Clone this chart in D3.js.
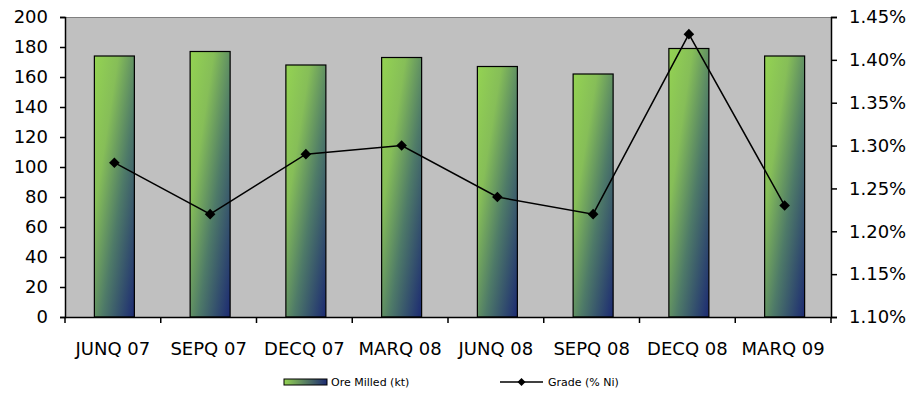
<!DOCTYPE html>
<html><head><meta charset="utf-8">
<script src="https://cdn.jsdelivr.net/npm/d3@7"></script>
<style>body{margin:0;background:#fff}svg{display:block}text{font-family:"DejaVu Sans",Verdana,sans-serif}</style>
</head><body><svg id="c" width="921" height="393"></svg>
<script>
const categories = ["JUNQ 07","SEPQ 07","DECQ 07","MARQ 08","JUNQ 08","SEPQ 08","DECQ 08","MARQ 09"];
const oreMilled = [174, 177, 168, 173, 167, 162, 179, 174];
const grade = [1.28, 1.22, 1.29, 1.30, 1.24, 1.22, 1.43, 1.23];
const leftTicks = [0,20,40,60,80,100,120,140,160,180,200];
const rightTicks = [1.10,1.15,1.20,1.25,1.30,1.35,1.40,1.45];
const seriesNames = ["Ore Milled (kt)", "Grade (% Ni)"];

const svg = d3.select("#c");
const L = 65, R = 831, T = 17, B = 317;
const x = d3.scaleBand().domain(categories).range([L, R]);
const yL = d3.scaleLinear().domain([0,200]).range([B, T]);
const yR = d3.scaleLinear().domain([1.10,1.45]).range([B, T]);

const defs = svg.append("defs");
const g = defs.append("linearGradient").attr("id","bg").attr("x1",0).attr("y1",0).attr("x2",1).attr("y2",1);
g.append("stop").attr("offset","0").attr("stop-color","#94D352");
g.append("stop").attr("offset","0.3").attr("stop-color","#86BE58");
g.append("stop").attr("offset","0.6").attr("stop-color","#4E7A68");
g.append("stop").attr("offset","1").attr("stop-color","#1C2A72");
const g2 = defs.append("linearGradient").attr("id","lg").attr("x1",0).attr("y1",0).attr("x2",1).attr("y2",0);
g2.append("stop").attr("offset","0").attr("stop-color","#94D352");
g2.append("stop").attr("offset","1").attr("stop-color","#1C2A72");

svg.append("rect").attr("x",L).attr("y",T).attr("width",R-L).attr("height",B-T).attr("fill","#C0C0C0");
svg.append("line").attr("x1",L).attr("x2",R).attr("y1",T+0.5).attr("y2",T+0.5).attr("stroke","#808080");

const bw = 40;
svg.append("g").selectAll("rect").data(oreMilled).join("rect")
  .attr("x",(d,i)=>x(categories[i]) + x.bandwidth()/2 - bw/2 + 1.5)
  .attr("y",d=>yL(d))
  .attr("width",bw).attr("height",d=>B-yL(d))
  .attr("fill","url(#bg)").attr("stroke","#000").attr("stroke-width",1.2);

const styleText = s=>{s.select(".domain").attr("stroke","#000").attr("stroke-width",1.5);s.selectAll("text").attr("font-size",18).attr("font-family","DejaVu Sans").attr("fill","#000");s.selectAll(".tick line").attr("stroke","#000").attr("stroke-width",1.5);};
const ax = svg.append("g");
ax.append("g").attr("transform",`translate(${L},0)`)
  .call(d3.axisLeft(yL).tickValues(leftTicks).tickSize(5).tickPadding(12).tickFormat(d3.format("d")))
  .call(styleText);
ax.append("g").attr("transform",`translate(${R},0)`)
  .call(d3.axisRight(yR).tickValues(rightTicks).tickSize(6).tickPadding(12).tickFormat(d=>d.toFixed(2)+"%"))
  .call(styleText);
const xa = ax.append("g").attr("transform",`translate(0,${B})`)
  .call(d3.axisBottom(x).tickSize(0).tickPadding(25))
  .call(styleText);
xa.selectAll("line.bt").data(categories.concat([null])).join("line").attr("class","bt")
  .attr("x1",(d,i)=>L + i*x.bandwidth()).attr("x2",(d,i)=>L + i*x.bandwidth())
  .attr("y1",0).attr("y2",6).attr("stroke","#000").attr("stroke-width",1.5);

const cx = (i)=>x(categories[i]) + x.bandwidth()/2 + 1.5;
svg.append("path").datum(grade)
  .attr("d", d3.line().x((d,i)=>cx(i)).y(d=>yR(d)))
  .attr("fill","none").attr("stroke","#000").attr("stroke-width",1.5);
svg.append("g").selectAll("path").data(grade).join("path")
  .attr("d", d3.symbol().type(d3.symbolSquare).size(56))
  .attr("transform",(d,i)=>`translate(${cx(i)},${yR(d)}) rotate(45)`)
  .attr("fill","#000");

const lg = svg.append("g").attr("font-size",11);
lg.append("rect").attr("x",284).attr("y",379).attr("width",43).attr("height",6).attr("fill","url(#lg)").attr("stroke","#000").attr("stroke-width",1);
lg.append("text").attr("x",331).attr("y",386).text(seriesNames[0]).attr("fill","#000");
lg.append("line").attr("x1",500).attr("x2",543).attr("y1",382).attr("y2",382).attr("stroke","#000").attr("stroke-width",1.5);
lg.append("path").attr("d",d3.symbol().type(d3.symbolSquare).size(32)).attr("transform","translate(521.5,382) rotate(45)").attr("fill","#000");
lg.append("text").attr("x",548).attr("y",386).text(seriesNames[1]).attr("fill","#000");
</script></body></html>
